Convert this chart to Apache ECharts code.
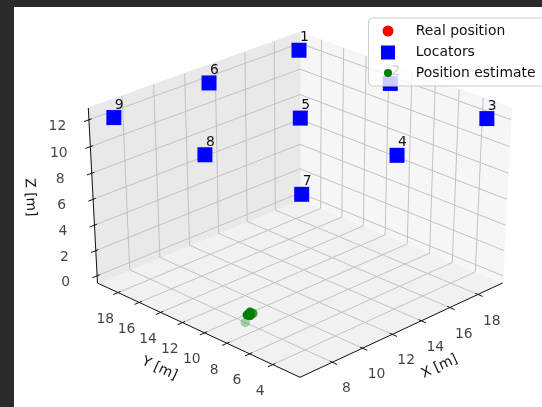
<!DOCTYPE html>
<html><head><meta charset="utf-8">
<script src="https://cdn.jsdelivr.net/npm/echarts@6/dist/echarts.min.js"></script>
<style>html,body{margin:0;padding:0;background:#2b2b2b}#c{width:542px;height:407px}</style>
</head><body><div id="c"></div>
<script>
// ---- data ----
const xTicks = [8, 10, 12, 14, 16, 18];
const yTicks = [4, 6, 8, 10, 12, 14, 16, 18];
const zTicks = [0, 2, 4, 6, 8, 10, 12];
const xLim = [6.18, 19.51], yLim = [2.04, 19.60], zLim = [-0.31, 12.60];
const locatorIds = ['1','2','3','4','5','6','7','8','9'];
const locatorX = [19.1, 19.1, 19.1, 13, 13, 13, 6.9, 6.9, 6.9];
const locatorY = [19.15, 11, 2.85, 2.85, 11, 19.15, 2.85, 11, 19.15];
const locatorZ = [12, 12, 12, 12, 12, 12, 12, 12, 12];
const realX = [7.95], realY = [8.75], realZ = [0.2];
const estX = [7.95, 8.1, 7.85, 8.0, 7.75], estY = [8.75, 8.7, 8.85, 8.8, 8.9], estZ = [0.2, 0.3, 0.25, 0.4, -0.3];
const axisTitles = ['X [m]', 'Y [m]', 'Z [m]'];
const legendNames = ['Real position', 'Locators', 'Position estimate'];

// ---- view / layout ----
const W = 542, H = 407;
const ELEV = 30, AZIM = -135, CAM = 19;
let ZASP = 0.86, SX0 = 300, SCX = 2467, SCY = 1972, SY0 = 198.4;
const ANCH = {F:[300,377.3], XE:[503.3,282.7], YE:[98.3,283.3], LTy:108};
const FONT = 'DejaVu Sans', FS = 13.9;

function pad(l){ const d = (l[1]-l[0])/48; return [l[0]-d, l[1]+d]; }
const XB = pad(xLim), YB = pad(yLim), ZB = pad(zLim);
const er = ELEV*Math.PI/180, ar = AZIM*Math.PI/180;
const Nv = [Math.cos(er)*Math.cos(ar), Math.cos(er)*Math.sin(ar), Math.sin(er)];
const Uv = [-Math.sin(ar), Math.cos(ar), 0];
const Vv = [-Math.sin(er)*Math.cos(ar), -Math.sin(er)*Math.sin(ar), Math.cos(er)];
function nrm(x,y,z){ return [2*(x-XB[0])/(XB[1]-XB[0])-1, 2*(y-YB[0])/(YB[1]-YB[0])-1, ZASP*(2*(z-ZB[0])/(ZB[1]-ZB[0])-1)]; }
function depth(x,y,z){ const q = nrm(x,y,z); return CAM-(Nv[0]*q[0]+Nv[1]*q[1]+Nv[2]*q[2]); }
function P(x,y,z){ const q = nrm(x,y,z), d = depth(x,y,z);
  return [(Uv[0]*q[0]+Uv[1]*q[1])/d, (Vv[0]*q[0]+Vv[1]*q[1]+Vv[2]*q[2])/d]; }
function toPx(p){ return [SX0+SCX*p[0], SY0-SCY*p[1]]; }
function fit(zasp){
  ZASP = zasp;
  const f = P(XB[0],YB[0],ZB[0]), xe = P(XB[1],YB[0],ZB[0]), ye = P(XB[0],YB[1],ZB[0]);
  SCX = (ANCH.XE[0]-ANCH.YE[0])/(xe[0]-ye[0]); SX0 = ANCH.F[0]-SCX*f[0];
  const sideY = (ANCH.XE[1]+ANCH.YE[1])/2;
  SCY = (ANCH.F[1]-sideY)/((xe[1]+ye[1])/2 - f[1]); SY0 = ANCH.F[1]+SCY*f[1];
  return toPx(P(XB[0],YB[1],ZB[1]))[1];
}
(function(){ let lo=0.3, hi=1.6; for(let i=0;i<50;i++){ const m=(lo+hi)/2; if(fit(m) > ANCH.LTy) lo=m; else hi=m; } fit((lo+hi)/2); })();

// screen angle of a projected 3D edge, normalised to (-90°, 90°]
function ang(a,b){ const pa=toPx(P(...a)), pb=toPx(P(...b));
  let g = Math.atan2(-(pb[1]-pa[1]), pb[0]-pa[0]);
  if (g > Math.PI/2) g -= Math.PI; if (g <= -Math.PI/2) g += Math.PI; return g; }

// panes
const panes = [
  [[XB[0],YB[0],ZB[0]],[XB[1],YB[0],ZB[0]],[XB[1],YB[1],ZB[0]],[XB[0],YB[1],ZB[0]]],
  [[XB[1],YB[0],ZB[0]],[XB[1],YB[1],ZB[0]],[XB[1],YB[1],ZB[1]],[XB[1],YB[0],ZB[1]]],
  [[XB[0],YB[1],ZB[0]],[XB[1],YB[1],ZB[0]],[XB[1],YB[1],ZB[1]],[XB[0],YB[1],ZB[1]]]
];
const paneColors = ['#f1f1f1', '#f6f6f6', '#e9e9e9'];

// grid lines
const gridSegs = [];
function seg(a,b){ return {coords:[P(...a), P(...b)]}; }
xTicks.forEach(t => { gridSegs.push(seg([t,YB[0],ZB[0]],[t,YB[1],ZB[0]])); gridSegs.push(seg([t,YB[1],ZB[0]],[t,YB[1],ZB[1]])); });
yTicks.forEach(t => { gridSegs.push(seg([XB[0],t,ZB[0]],[XB[1],t,ZB[0]])); gridSegs.push(seg([XB[1],t,ZB[0]],[XB[1],t,ZB[1]])); });
zTicks.forEach(t => { gridSegs.push(seg([XB[1],YB[0],t],[XB[1],YB[1],t])); gridSegs.push(seg([XB[0],YB[1],t],[XB[1],YB[1],t])); });

// axis lines + ticks
const axSegs = [
  seg([XB[0],YB[0],ZB[0]],[XB[1],YB[0],ZB[0]]),
  seg([XB[0],YB[0],ZB[0]],[XB[0],YB[1],ZB[0]]),
  seg([XB[0],YB[1],ZB[0]],[XB[0],YB[1],ZB[1]])
];
const yr = YB[1]-YB[0], xr = XB[1]-XB[0];
xTicks.forEach(t => axSegs.push(seg([t,YB[0]+0.012*yr,ZB[0]],[t,YB[0]-0.022*yr,ZB[0]])));
yTicks.forEach(t => axSegs.push(seg([XB[0]+0.012*xr,t,ZB[0]],[XB[0]-0.022*xr,t,ZB[0]])));
zTicks.forEach(t => axSegs.push(seg([XB[0]+0.012*xr,YB[1],t],[XB[0]-0.022*xr,YB[1],t])));

// tick labels
const tickLabels = [];
xTicks.forEach(t => tickLabels.push({name:String(t), value:P(t,YB[0],ZB[0]), label:{offset:[14,26.5]}}));
yTicks.forEach(t => tickLabels.push({name:String(t), value:P(XB[0],t,ZB[0]), label:{offset:[-12.7,26.7]}}));
zTicks.forEach(t => tickLabels.push({name:String(t), value:P(XB[0],YB[1],t), label:{offset:[-31.5,6.5]}}));

// axis titles (positioned from projected axis midpoints)
const xm=(XB[0]+XB[1])/2, ym=(YB[0]+YB[1])/2, zm=(ZB[0]+ZB[1])/2;
const titleDefs = [
  {text:axisTitles[0], at:P(xm,YB[0],ZB[0]), off:[35,38], rot:ang([XB[0],YB[0],ZB[0]],[XB[1],YB[0],ZB[0]])},
  {text:axisTitles[1], at:P(XB[0],ym,ZB[0]), off:[-36,40], rot:ang([XB[0],YB[0],ZB[0]],[XB[0],YB[1],ZB[0]])},
  {text:axisTitles[2], at:P(XB[0],YB[1],zm), off:[-63,0], rot:ang([XB[0],YB[1],ZB[0]],[XB[0],YB[1],ZB[1]])}
];
const titleGraphics = titleDefs.map(d => { const p = toPx(d.at);
  return {type:'text', z:5, x:p[0]+d.off[0], y:p[1]+d.off[1], rotation:d.rot,
    style:{text:d.text, x:0, y:0, align:'center', verticalAlign:'middle', font:FS+'px "'+FONT+'"', fill:'#111'}}; });

// points
const realData = realX.map((x,i) => P(x, realY[i], realZ[i]));
const locData = locatorX.map((x,i) => ({name:locatorIds[i], value:P(x, locatorY[i], locatorZ[i])}));
const estDepth = estX.map((x,i) => depth(x, estY[i], estZ[i]));
const dMin = Math.min(...estDepth), dMax = Math.max(...estDepth);
const estData = estX.map((x,i) => ({value:P(x, estY[i], estZ[i]),
  itemStyle:{opacity: 1 - 0.7*((estDepth[i]-dMin)/((dMax-dMin)||1))}}));

const txt = {fontFamily:FONT, fontSize:FS, color:'#111'};
const invisible = {color:'rgba(0,0,0,0)'};
const legText = {fontFamily:FONT, fontSize:FS, color:'#111'};

const chart = echarts.init(document.getElementById('c'), null, {renderer:'canvas', width:W, height:H});
chart.setOption({
  animation:false,
  backgroundColor:'#2b2b2b',
  graphic:[
    {type:'rect', z:0, shape:{x:14, y:7, width:W-14, height:H-7}, style:{fill:'#ffffff'}},
    {type:'rect', z:3, shape:{x:368.5, y:18, width:200, height:68, r:4}, style:{fill:'rgba(255,255,255,0.8)', stroke:'#cccccc', lineWidth:1}}
  ].concat(titleGraphics),
  grid:{left:0, right:0, top:0, bottom:0},
  xAxis:{type:'value', min:-SX0/SCX, max:(W-SX0)/SCX, show:false},
  yAxis:{type:'value', min:(SY0-H)/SCY, max:SY0/SCY, show:false},
  legend:[
    {data:[{name:legendNames[0], icon:'circle'}], left:382.5, top:24, padding:0, itemWidth:11, itemHeight:11, textStyle:Object.assign({padding:[0,0,0,17.3]}, legText)},
    {data:[{name:legendNames[1], icon:'rect'}], left:381, top:45.5, padding:0, itemWidth:14, itemHeight:14, textStyle:Object.assign({padding:[0,0,0,15.8]}, legText)},
    {data:[{name:legendNames[2], icon:'circle'}], left:384, top:66, padding:0, itemWidth:8, itemHeight:8, textStyle:Object.assign({padding:[0,0,0,18.8]}, legText)}
  ],
  series:[
    {type:'custom', coordinateSystem:'cartesian2d', silent:true, z:1,
     data:panes.map(p => P(...p[0])),
     renderItem:(params, api) => ({type:'polygon',
        shape:{points:panes[params.dataIndex].map(c => api.coord(P(...c)))},
        style:{fill:paneColors[params.dataIndex], stroke:paneColors[params.dataIndex]}})},
    {type:'lines', coordinateSystem:'cartesian2d', silent:true, z:1.5, data:gridSegs, lineStyle:{color:'#c2c2c2', width:1, opacity:1}},
    {type:'lines', coordinateSystem:'cartesian2d', silent:true, z:1.6, data:axSegs, lineStyle:{color:'#111', width:1, opacity:1}},
    {type:'scatter', silent:true, symbolSize:1, itemStyle:invisible, data:tickLabels,
     label:{show:true, position:'inside', formatter:'{b}', align:'center', verticalAlign:'middle', ...txt}},
    {name:legendNames[0], type:'scatter', symbol:'circle', symbolSize:9, itemStyle:{color:'#ff0000', opacity:1}, data:realData},
    {name:legendNames[1], type:'scatter', symbol:'rect', symbolSize:15, itemStyle:{color:'#0000ff', opacity:1}, data:locData,
     label:{show:true, position:[8.5, 2], align:'left', verticalAlign:'bottom', formatter:'{b}', ...txt}},
    {name:legendNames[2], type:'scatter', symbol:'circle', symbolSize:9.5, itemStyle:{color:'#008000', opacity:1}, data:estData}
  ]
});
</script></body></html>
